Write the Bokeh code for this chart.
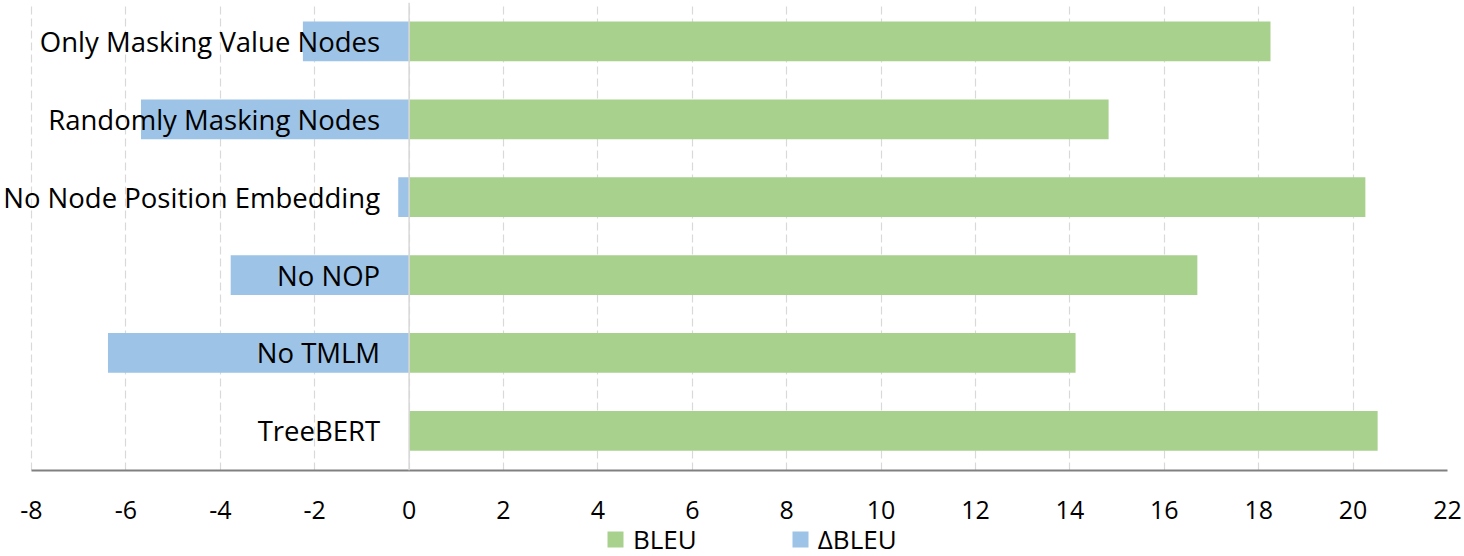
from bokeh.plotting import figure
from bokeh.layouts import column
from bokeh.models import ColumnDataSource, Range1d, FixedTicker, Legend, LegendItem, Span
from bokeh.core.properties import value
from bokeh.embed import file_html
from bokeh.resources import INLINE

# Data (bottom to top)
categories = ["TreeBERT", "No TMLM", "No NOP", "No Node Position Embedding",
              "Randomly Masking Nodes", "Only Masking Value Nodes"]
bleu = [20.52, 14.12, 16.70, 20.26, 14.82, 18.25]
delta_bleu = [0.0, -6.38, -3.78, -0.23, -5.68, -2.25]
x_ticks = [-8, -6, -4, -2, 0, 2, 4, 6, 8, 10, 12, 14, 16, 18, 20, 22]

FONT = "Open Sans"
GREEN, BLUE = "#a9d18e", "#9dc3e6"
ypos = [i + 0.5 for i in range(len(categories))]

src = ColumnDataSource(dict(y=ypos, cat=categories, bleu=bleu, delta=delta_bleu,
                            zero=[0] * len(categories)))

# frame spans from the left edge of the canvas so labels are not clipped;
# the axis line is bounded to the tick range
W, H_MAIN, H_LEG = 1464, 526, 30
left_px, right_border = 31, 17
px_per_unit = (W - left_px - right_border) / (x_ticks[-1] - x_ticks[0])
x_start = x_ticks[0] - left_px / px_per_unit

p = figure(width=W, height=H_MAIN, output_backend="svg", toolbar_location=None,
           x_range=Range1d(x_start, x_ticks[-1]), y_range=Range1d(-0.01, 6),
           min_border_left=0, min_border_right=right_border, min_border_top=2,
           min_border_bottom=56)
p.outline_line_color = None
p.background_fill_color = "white"
p.border_fill_color = "white"

p.yaxis.visible = False
p.ygrid.grid_line_color = None
p.xgrid.grid_line_color = "#d9d9d9"
p.xgrid.grid_line_dash = "8 4"
p.xgrid.grid_line_width = 1.2
p.xgrid.ticker = FixedTicker(ticks=x_ticks)

p.xaxis.ticker = FixedTicker(ticks=x_ticks)
p.xaxis.bounds = (x_ticks[0], x_ticks[-1])
p.xaxis.major_label_overrides = {t: str(t) for t in x_ticks}
p.xaxis.axis_line_color = "#808080"
p.xaxis.axis_line_width = 2
p.xaxis.major_tick_line_color = None
p.xaxis.minor_tick_line_color = None
p.xaxis.major_label_text_font = FONT
p.xaxis.major_label_text_font_size = "25px"
p.xaxis.major_label_text_color = "#000000"
p.xaxis.major_label_standoff = 24

p.add_layout(Span(location=0, dimension="height", line_color="#d9d9d9", line_width=1.5))

p.hbar(y="y", left="zero", right="bleu", height=0.51, source=src,
       fill_color=GREEN, line_color=None)
p.hbar(y="y", left="delta", right="zero", height=0.51, source=src,
       fill_color=BLUE, line_color=None)

p.text(x="zero", y="y", text="cat", source=src, x_offset=-29,
       text_align="right", text_baseline="middle",
       text_font=value(FONT), text_font_size="27.5px", text_color="#000000")

# legend strip below the chart
q = figure(width=W, height=H_LEG, output_backend="svg", toolbar_location=None,
           min_border=0)
q.outline_line_color = None
q.axis.visible = False
q.grid.grid_line_color = None
gq = q.hbar(y="y", left="zero", right="bleu", height=0.51, source=src,
            fill_color=GREEN, line_color=None, visible=False)
bq = q.hbar(y="y", left="delta", right="zero", height=0.51, source=src,
            fill_color=BLUE, line_color=None, visible=False)
legend = Legend(items=[LegendItem(label="BLEU", renderers=[gq]),
                       LegendItem(label="\u0394BLEU", renderers=[bq])],
                orientation="horizontal", location=(605, -1),
                label_text_font=FONT, label_text_font_size="26px",
                label_text_color="#000000",
                glyph_width=20, glyph_height=20, label_standoff=8, spacing=93,
                padding=0, margin=0, border_line_color=None,
                background_fill_alpha=0)
q.add_layout(legend, "center")

layout = column(p, q, spacing=0)
open("out.html", "w").write(file_html(layout, INLINE))
